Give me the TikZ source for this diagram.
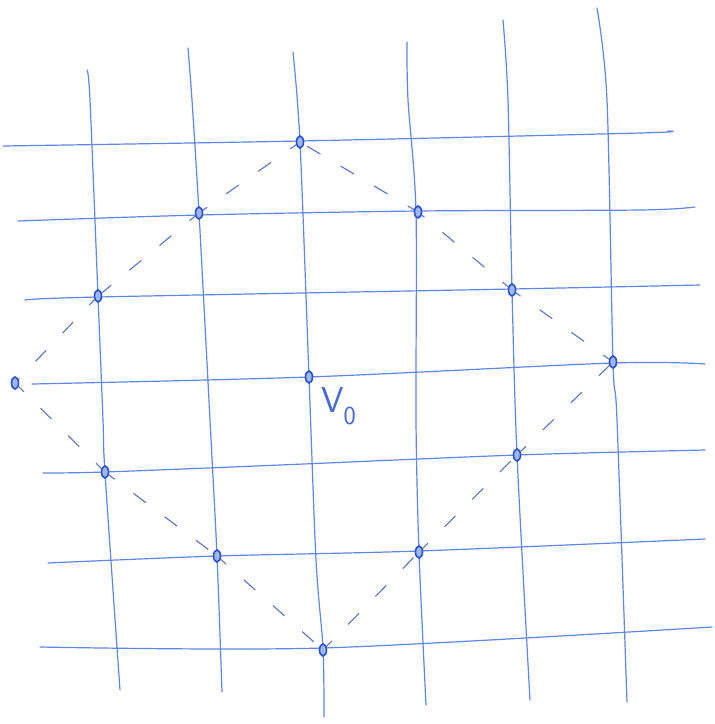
\documentclass[tikz,border=0pt]{standalone}
\usetikzlibrary{shapes.geometric}
\definecolor{penline}{RGB}{95,135,230}
\definecolor{pendot}{RGB}{40,80,205}
\definecolor{pendash}{RGB}{90,115,200}
\tikzset{
  gridline/.style={penline, line width=1.2pt, line cap=round, line join=round},
  vertex/.style={ellipse, draw=pendot, fill=penline!60, line width=1.6pt, minimum width=7pt, minimum height=12pt, inner sep=0pt},
  sketchdash/.style={pendash, line width=1.1pt, dash pattern=on 15pt off 24pt, line cap=round},
}
\begin{document}
\begin{tikzpicture}[x=1pt,y=-1pt]
\useasboundingbox (0,0) rectangle (715,724);
\fill[white] (0,0) rectangle (715,724);
% vertical lines
\draw[gridline] plot[smooth] coordinates {(87,70) (90,100) (98,296) (103,420) (105,473) (120,690)};
\draw[gridline] plot[smooth] coordinates {(188,48) (192,100) (199,213) (210,420) (217,556) (222,692)};
\draw[gridline] plot[smooth] coordinates {(293,52) (300,142) (309,377) (316,560) (323,648) (324,717)};
\draw[gridline] plot[smooth] coordinates {(407,42) (408,100) (416,212) (416,420) (419,552) (426,705)};
\draw[gridline] plot[smooth] coordinates {(503,20) (508,100) (512,290) (517,455) (530,700)};
\draw[gridline] plot[smooth] coordinates {(597,8) (607,100) (613,362) (617,420) (627,702)};
% horizontal lines
\draw[gridline] plot[smooth] coordinates {(3,146) (300,141) (640,133) (668,131)};
\draw[gridline] plot[smooth] coordinates {(18,221) (199,215) (418,211) (640,210) (695,207)};
\draw[gridline] plot[smooth] coordinates {(25,300) (98,297) (512,289) (700,285)};
\draw[gridline] plot[smooth] coordinates {(32,384) (309,377) (613,363) (705,364)};
\draw[gridline] plot[smooth] coordinates {(43,473) (105,472) (280,465) (517,455) (705,450)};
\draw[gridline] plot[smooth] coordinates {(48,563) (217,556) (419,551) (705,539)};
\draw[gridline] plot[smooth] coordinates {(40,647) (323,648) (712,627)};
% vertices
\node[vertex] (t)  at (300,142) {};
\node[vertex] (a1) at (199,213) {};
\node[vertex] (a2) at (98,296) {};
\node[vertex] (l)  at (15,383) {};
\node[vertex] (b1) at (105,472) {};
\node[vertex] (b2) at (217,556) {};
\node[vertex] (bo) at (323,650) {};
\node[vertex] (c1) at (419,552) {};
\node[vertex] (c2) at (517,455) {};
\node[vertex] (r)  at (613,362) {};
\node[vertex] (d1) at (512,290) {};
\node[vertex] (d2) at (418,212) {};
\node[vertex] (v0) at (309,377) {};
\node[pendot!85, font=\sffamily\fontsize{36}{36}\selectfont, inner sep=0pt, anchor=north west] (lab) at (321,387) {V\raisebox{-12pt}{\fontsize{26}{26}\selectfont 0}};
% dashed diamond
\draw[sketchdash, dash phase=8pt] (t) -- (a1) -- (a2) -- (l);
\draw[sketchdash, dash phase=8pt] (l) -- (b1) -- (b2) -- (bo);
\draw[sketchdash, dash phase=8pt] (bo) -- (c1) -- (c2) -- (r);
\draw[sketchdash, dash phase=8pt] (r) -- (d1) -- (d2) -- (t);
\end{tikzpicture}
\end{document}
